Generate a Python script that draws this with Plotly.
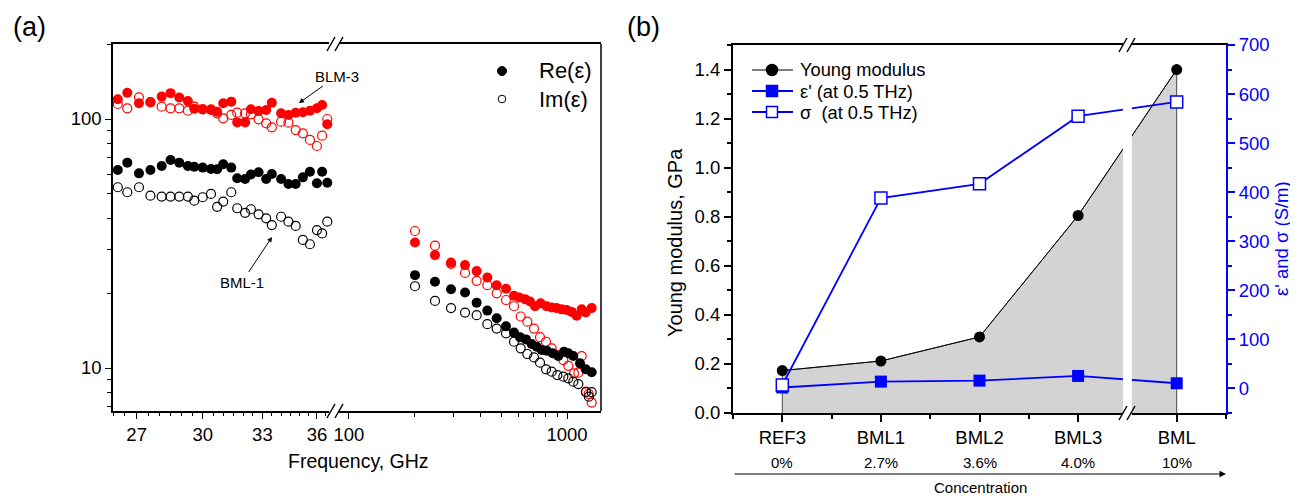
import math
import plotly.graph_objects as go

# ---------------- data: panel (a) ----------------
# low-frequency band (GHz) - shared frequency grid
ghz_lo = [26.2, 26.6, 27.1, 27.6, 28.1, 28.5, 28.9, 29.3, 29.6, 30.0, 30.4, 30.7, 31.0, 31.4,
          31.7, 32.1, 32.4, 32.8, 33.2, 33.5, 34.0, 34.4, 34.8, 35.2, 35.6, 36.0, 36.3, 36.6]
blm3_re_lo = [120, 127.5, 115.6, 117, 123, 127, 122, 118, 110, 109.4, 108.7, 107, 115.6, 117.4,
              96.9, 96.9, 109.4, 107.7, 108.7, 116.3, 105.4, 103.8, 106, 106.4, 108, 110.4, 113.8, 95.2]
blm3_im_lo = [114.9, 110.4, 122.2, 116.7, 112.1, 110.4, 110.4, 108.0, 112.1, 109.4, 109.4, 105.4, 100.6, 103.8,
              106.0, 105.4, 104.4, 99.7, 96.1, 92.6, 97.6, 96.7, 90.3, 87.6, 82.4, 77.9, 85.7, 100]
bml1_re_lo = [62.4, 66.8, 60.5, 62.4, 64.7, 68.4, 66.8, 64.7, 64.3, 63.8, 63.0, 62.8, 65.8, 63.8,
              57.8, 57.4, 59.9, 61.1, 57.4, 60.1, 57.4, 54.8, 54.8, 58.3, 61.4, 55.2, 61.4, 55.5]
bml1_im_lo = [53.2, 50.8, 53.2, 49.2, 48.8, 48.8, 48.8, 48.8, 47.0, 48.5, 50.0, 44.4, 46.6, 50.8,
              43.8, 42.0, 43.4, 41.4, 39.9, 37.5, 40.5, 38.7, 37.2, 32.7, 31.4, 35.8, 34.7, 38.7]

# high-frequency band (GHz)
blm3_re_hi_f = [200.8, 248, 293.8, 340.6, 385.1, 431.1, 475.9, 525.1, 571.3, 604.3, 641.8, 676.6,
                713.3, 757.3, 806.8, 850.6, 896.7, 945.3, 996.5, 1050.5, 1107.6, 1167.8, 1218, 1297.7]
blm3_re_hi = [31.9, 28.4, 26.5, 25.9, 24.5, 23.1, 21.5, 20.8, 19.5, 19.2, 18.9, 18.5,
              17.7, 18.2, 17.7, 17.5, 17.4, 17.2, 17.1, 16.8, 16.2, 17.2, 16.7, 17.4]
blm3_im_hi_f = [200.8, 248, 293.8, 340.6, 385.1, 431.1, 475.9, 525.1, 571.3, 613, 657.7, 705.7,
                751.9, 801.2, 850.6, 903.1, 962.1, 1014, 1076.7, 1127.3, 1167.8, 1222, 1257, 1297.7]
blm3_im_hi = [35.5, 31.0, 26.2, 24.1, 22.4, 21.5, 19.95, 18.75, 17.7, 16.1, 15.35, 14.4,
              13.3, 12.75, 12.0, 11.27, 10.76, 10.2, 9.52, 9.58, 11.17, 8.04, 7.87, 7.26]
bml1_re_hi_f = [200.8, 248, 293.8, 340.6, 385.1, 431.1, 475.9, 525.1, 571.3, 608.6, 648.6, 688.6,
                726, 765.3, 806.8, 859.7, 912.6, 968.8, 1014, 1069, 1147.3, 1218, 1297.7]
bml1_re_hi = [23.6, 22.2, 20.7, 20.1, 18.3, 17.0, 15.83, 14.7, 13.87, 13.3, 13.03, 12.48,
              12.18, 11.81, 11.74, 11.46, 11.17, 11.63, 11.46, 11.17, 10.44, 9.88, 9.61]
bml1_im_hi_f = [200.8, 248, 293.8, 340.6, 385.1, 431.1, 475.9, 525.1, 571.3, 613, 657.7, 705.7,
                751.9, 801.2, 850.6, 903.1, 962.1, 1014, 1069, 1127.3, 1222, 1260, 1297.7]
bml1_im_hi = [21.3, 18.6, 17.4, 16.7, 16.3, 15.0, 14.4, 13.78, 12.75, 12.0, 11.38, 11.03,
              10.5, 9.88, 9.67, 9.37, 9.23, 9.09, 8.81, 8.62, 7.99, 7.67, 8.0]

lo_ticks = [27, 30, 33, 36]
hi_ticks = [100, 1000]
eps_ticks = [10, 100]
legend_a = ["Re(ε)", "Im(ε)"]

# ---------------- data: panel (b) ----------------
samples = ["REF3", "BML1", "BML2", "BML3", "BML"]
concentration = ["0%", "2.7%", "3.6%", "4.0%", "10%"]
young_gpa = [0.173, 0.212, 0.31, 0.805, 1.40]
eps_05thz = [2, 14, 16, 25.5, 10.6]
sigma_05thz = [7, 388, 417, 555, 584]
legend_b = ["Young modulus", "ε' (at 0.5 THz)", "σ\u00a0 (at 0.5 THz)"]

# ---------------- helpers ----------------
OFF = 8                      # page body margin of the html page
W, H = 1298 - OFF, 496 - OFF
FONT = "Liberation Sans, Arial, sans-serif"
RED, BLUE, BLACK = "#ff0000", "#0000ff", "#000000"


def px(x):
    return (x - OFF) / W


def py(y):
    return 1 - (y - OFF) / H


fig = go.Figure()

MS = 10


def add_pts(x, y, xa, color, filled, name):
    marker = dict(size=MS, color=color, line=dict(width=0)) if filled else \
        dict(size=MS - 1, color="rgba(0,0,0,0)", line=dict(color=color, width=1.2))
    fig.add_trace(go.Scatter(x=x, y=y, mode="markers", marker=marker, xaxis=xa, yaxis="y", name=name,
                             showlegend=False, cliponaxis=False, hoverinfo="skip"))


add_pts(ghz_lo, blm3_im_lo, "x", RED, False, "BLM-3 Im(ε)")
add_pts(ghz_lo, blm3_re_lo, "x", RED, True, "BLM-3 Re(ε)")
add_pts(ghz_lo, bml1_im_lo, "x", BLACK, False, "BML-1 Im(ε)")
add_pts(ghz_lo, bml1_re_lo, "x", BLACK, True, "BML-1 Re(ε)")
add_pts(blm3_im_hi_f, blm3_im_hi, "x2", RED, False, "BLM-3 Im(ε)")
add_pts(blm3_re_hi_f, blm3_re_hi, "x2", RED, True, "BLM-3 Re(ε)")
add_pts(bml1_im_hi_f, bml1_im_hi, "x2", BLACK, False, "BML-1 Im(ε)")
add_pts(bml1_re_hi_f, bml1_re_hi, "x2", BLACK, True, "BML-1 Re(ε)")

# ---------------- panel (b) ----------------
pos = list(range(len(samples)))
fig.add_trace(go.Scatter(x=[pos[0]] + pos + [pos[-1]], y=[0] + young_gpa + [0], xaxis="x3", yaxis="y3",
                         mode="lines", fill="toself", fillcolor="#d3d3d3",
                         line=dict(color="#222222", width=0.8), showlegend=False, hoverinfo="skip"))
fig.add_trace(go.Scatter(x=pos, y=young_gpa, xaxis="x3", yaxis="y3", mode="lines+markers",
                         name=legend_b[0], showlegend=False, cliponaxis=False,
                         line=dict(color=BLACK, width=1), marker=dict(symbol="circle", size=11, color=BLACK)))
fig.add_trace(go.Scatter(x=pos, y=eps_05thz, xaxis="x3", yaxis="y4", mode="lines+markers",
                         name=legend_b[1], showlegend=False, cliponaxis=False,
                         line=dict(color=BLUE, width=1.8), marker=dict(symbol="square", size=12, color=BLUE)))
fig.add_trace(go.Scatter(x=pos, y=sigma_05thz, xaxis="x3", yaxis="y4", mode="lines+markers",
                         name=legend_b[2], showlegend=False, cliponaxis=False,
                         line=dict(color=BLUE, width=1.8),
                         marker=dict(symbol="square", size=12, color="white", line=dict(color=BLUE, width=1.5))))

TF = 18.5
axis_common = dict(showgrid=False, zeroline=False, showline=True, linecolor=BLACK, ticks="outside",
                   tickcolor=BLACK, tickfont=dict(size=TF, color=BLACK, family=FONT), automargin=False)

lo_minor = [26 + 0.5 * i for i in range(22)]
hi_minor = [200, 300, 400, 500, 600, 700, 800, 900]
y_minor = [7, 8, 9, 20, 30, 40, 50, 60, 70, 80, 90, 200]

fig.update_layout(
    width=W, height=H, margin=dict(l=0, r=0, t=0, b=0),
    paper_bgcolor="white", plot_bgcolor="rgba(0,0,0,0)",
    font=dict(family=FONT, color=BLACK), showlegend=False,
    xaxis=dict(axis_common, domain=[px(113), px(329)], type="log", anchor="y",
               range=[math.log10(26), math.log10(36.7)], tickvals=lo_ticks,
               ticklen=6, tickwidth=1.2, linewidth=1.5, mirror=True,
               minor=dict(tickvals=lo_minor, ticks="outside", ticklen=3, tickcolor=BLACK, tickwidth=1)),
    xaxis2=dict(axis_common, domain=[px(339), px(601)], type="log", anchor="y",
                range=[math.log10(90), math.log10(1432)], tickvals=hi_ticks, ticktext=[str(v) for v in hi_ticks],
                ticklen=6, tickwidth=1.2, linewidth=1.5, mirror=True,
                minor=dict(tickvals=hi_minor, ticks="outside", ticklen=4, tickcolor=BLACK, tickwidth=1)),
    yaxis=dict(axis_common, domain=[py(411), py(44)], type="log", anchor="x",
               range=[0.8273, 2.3012], tickvals=eps_ticks, ticktext=[str(v) for v in eps_ticks],
               ticklen=6, tickwidth=1.2, linewidth=1.5,
               minor=dict(tickvals=y_minor, ticks="outside", ticklen=4, tickcolor=BLACK, tickwidth=1)),
    xaxis3=dict(axis_common, domain=[px(733), px(1226)], anchor="y3", range=[-0.5, 4.5],
                tickvals=pos, ticktext=samples, ticklen=7, tickwidth=1.5, linewidth=2, mirror=True,
                minor=dict(dtick=0.5, tick0=0, ticks="outside", ticklen=4, tickcolor=BLACK, tickwidth=1.5)),
    xaxis4=dict(overlaying="x3", side="top", anchor="y3", range=[-0.5, 4.5], showgrid=False, zeroline=False,
                showline=False, ticks="inside", ticklen=6, tickwidth=1.5, tickcolor=BLACK,
                dtick=0.5, tick0=0, showticklabels=False),
    yaxis3=dict(axis_common, domain=[py(413), py(45)], anchor="x3", range=[0, 1.5], dtick=0.2, tick0=0,
                tickformat=".1f", ticklen=7, tickwidth=1.5, linewidth=2,
                minor=dict(dtick=0.1, tick0=0, ticks="outside", ticklen=4, tickcolor=BLACK, tickwidth=1.5)),
    yaxis4=dict(axis_common, overlaying="y3", side="right", anchor="x3", range=[-50, 700], dtick=100, tick0=0,
                ticklen=7, tickwidth=1.5, linewidth=2, linecolor=BLUE, tickcolor=BLUE,
                tickfont=dict(size=TF, color=BLUE, family=FONT),
                minor=dict(dtick=50, tick0=0, ticks="outside", ticklen=4, tickcolor=BLUE, tickwidth=1.5)),
)

shapes = []
# right spine of panel (a)
shapes.append(dict(type="line", xref="paper", yref="paper", x0=px(601), x1=px(601), y0=py(411), y1=py(44),
                   line=dict(color=BLACK, width=1.5)))
# white break gap in panel (b)
shapes.append(dict(type="rect", xref="x3", yref="paper", x0=3.455, x1=3.545, y0=py(419), y1=py(39),
                   fillcolor="white", line=dict(width=0), layer="above"))


def slashes(xc, yc):
    out = []
    for dx in (-4, 4):
        out.append(dict(type="line", xref="paper", yref="paper",
                        x0=px(xc + dx - 4), y0=py(yc + 7), x1=px(xc + dx + 4), y1=py(yc - 7),
                        line=dict(color=BLACK, width=1.5), layer="above"))
    return out


shapes += slashes(335, 411) + slashes(335, 44) + slashes(1127, 413) + slashes(1127, 45)

# legend of panel (a): marker + text per row
LEGA_MX, LEGA_TX = 502, 537
lega_rows = [71, 99]
shapes.append(dict(type="circle", xref="paper", yref="paper", x0=px(LEGA_MX - 4.5), x1=px(LEGA_MX + 4.5),
                   y0=py(lega_rows[0] + 4.5), y1=py(lega_rows[0] - 4.5), fillcolor=BLACK,
                   line=dict(color=BLACK, width=1), layer="above"))
shapes.append(dict(type="circle", xref="paper", yref="paper", x0=px(LEGA_MX - 3.8), x1=px(LEGA_MX + 3.8),
                   y0=py(lega_rows[1] + 3.8), y1=py(lega_rows[1] - 3.8), fillcolor="white",
                   line=dict(color=BLACK, width=1), layer="above"))

# legend of panel (b): line sample + symbol + text per row
LEG_X0, LEG_X1, LEG_MX, LEG_TX = 752, 793, 772, 798
leg_rows = [70, 91, 112]
leg_styles = [
    dict(lc=BLACK, lw=1, kind="circle", fill=BLACK, edge=BLACK),
    dict(lc=BLUE, lw=1.8, kind="rect", fill=BLUE, edge=BLUE),
    dict(lc=BLUE, lw=1.8, kind="rect", fill="white", edge=BLUE),
]
for yy, st in zip(leg_rows, leg_styles):
    shapes.append(dict(type="line", xref="paper", yref="paper", x0=px(LEG_X0), x1=px(LEG_X1),
                       y0=py(yy), y1=py(yy), line=dict(color=st["lc"], width=st["lw"]), layer="above"))
    r = 5.5
    shapes.append(dict(type=st["kind"], xref="paper", yref="paper", x0=px(LEG_MX - r), x1=px(LEG_MX + r),
                       y0=py(yy + r), y1=py(yy - r), fillcolor=st["fill"],
                       line=dict(color=st["edge"], width=1.5), layer="above"))
fig.update_layout(shapes=shapes)


def label(text, x, y, size, color=BLACK, angle=0, xref="paper", xanchor="center"):
    return dict(text=text, x=x, y=y, xref=xref, yref="paper", showarrow=False, xanchor=xanchor,
                yanchor="middle", textangle=angle, font=dict(size=size, color=color, family=FONT))


ann = [
    label("(a)", px(29), py(27), 27),
    label("(b)", px(643), py(27), 27),
    label("Frequency, GHz", px(358), py(461), 19.5),
    label("Young modulus, GPa", px(675), py(243), 20, angle=-90),
    label("ε' and σ (S/m)", px(1281), py(239), 18.5, color=BLUE, angle=-90),
    label("Concentration", px(980), py(487), 15),
]
for yy, txt in zip(lega_rows, legend_a):
    ann.append(label(txt, px(LEGA_TX), py(yy), 22, xanchor="left"))
for yy, txt in zip(leg_rows, legend_b):
    ann.append(label(txt, px(LEG_TX), py(yy), 18.3, xanchor="left"))
ann.append(dict(text="BLM-3", x=px(299), y=py(103), xref="paper", yref="paper", showarrow=True,
                ax=38, ay=-27, arrowhead=2, arrowsize=1, arrowwidth=1, arrowcolor=BLACK,
                font=dict(size=15, family=FONT)))
ann.append(dict(text="BML-1", x=px(272), y=py(237), xref="paper", yref="paper", showarrow=True,
                ax=-30, ay=45, arrowhead=2, arrowsize=1, arrowwidth=1, arrowcolor=BLACK,
                font=dict(size=15, family=FONT)))
for p, c in zip(pos, concentration):
    ann.append(label(c, p, py(462), 15, xref="x3"))
ann.append(dict(text="", x=px(1226), y=py(474), xref="paper", yref="paper", showarrow=True,
                ax=-(1226 - 733), ay=0, arrowhead=2, arrowsize=1.3, arrowwidth=1, arrowcolor=BLACK))
fig.update_layout(annotations=ann)

fig.write_html("out.html")
